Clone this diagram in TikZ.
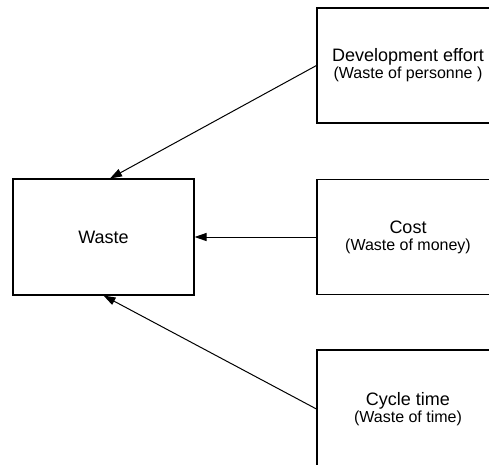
\documentclass[tikz,border=0pt]{standalone}
\usepackage{fontspec}
\setmainfont{Liberation Sans}
\usetikzlibrary{arrows.meta}

\newcommand{\wastenote}[1]{{\fontsize{16}{18}\selectfont #1}}

\begin{document}
\begin{tikzpicture}[x=1pt, y=-1pt, line width=1.1pt,
  box/.style={draw, rectangle, minimum width=182pt, minimum height=115pt,
    align=center, font=\fontsize{18}{18}\selectfont},
  feed/.style={line width=1pt, -{Triangle[length=12pt,width=8pt]}}]
  \useasboundingbox (0,0) rectangle (489,464);
  \clip (0,0) rectangle (489,464);

  \node[box, minimum width=181pt, minimum height=116pt] (waste) at (103.5,237) {Waste};
  \node[box] (dev)   at (408,65.5)  {Development effort\\[-1pt]\wastenote{(Waste of personne )}};
  \node[box] (cost)  at (408,237)   {Cost\\[-1pt]\wastenote{(Waste of money)}};
  \node[box, minimum height=118pt] (cycle) at (408,409) {Cycle time\\[-1pt]\wastenote{(Waste of time)}};

  \draw[feed] (dev.west) -- ([xshift=6.5pt]waste.north);
  \draw[feed] (cost.west) -- (waste.east);
  \draw[feed] (cycle.west) -- (waste.south);
\end{tikzpicture}
\end{document}
